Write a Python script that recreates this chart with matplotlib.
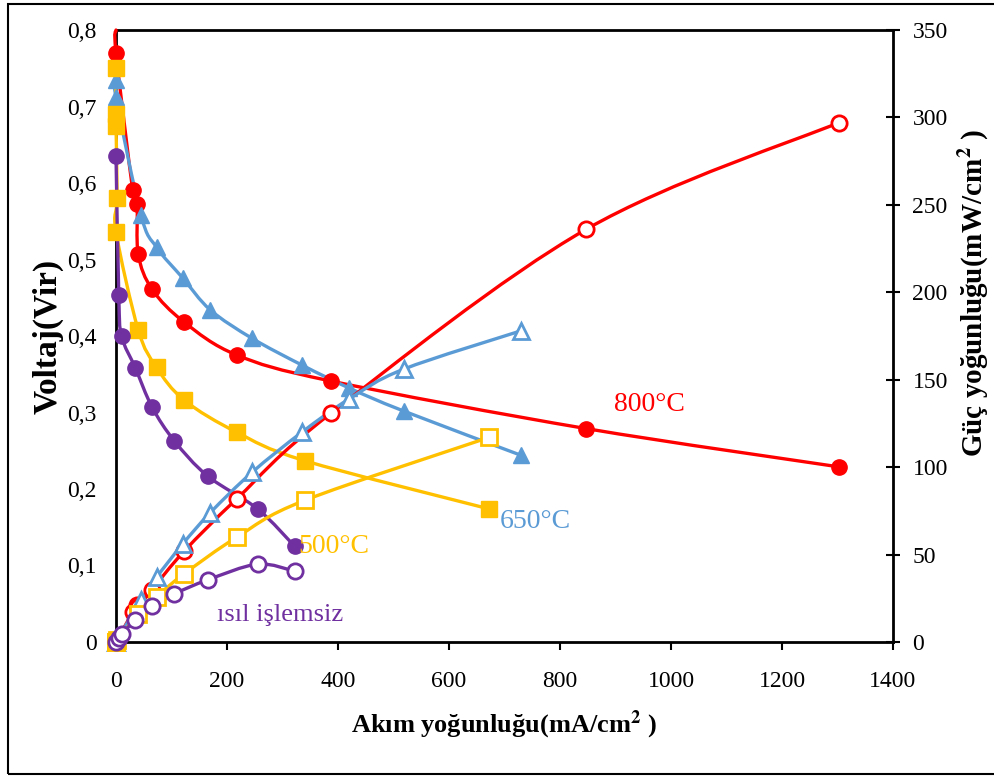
import numpy as np
import matplotlib.pyplot as plt
from matplotlib.path import Path
from matplotlib.patches import PathPatch, Rectangle

plt.rcParams['font.family'] = ['Liberation Serif', 'DejaVu Serif']
plt.rcParams['mathtext.fontset'] = 'stix'

# 800 C
i800 = [0, 0, 30, 38, 40, 65, 123, 218, 388, 847, 1302]
v800 = [0.80, 0.77, 0.591, 0.572, 0.507, 0.461, 0.418, 0.375, 0.341, 0.279, 0.229]
p800 = [0, 0, 17, 21, 20, 30, 52, 82, 131, 236, 297]

# 650 C
i650 = [0, 0, 45, 73, 120, 170, 245, 335, 420, 518, 730]
v650 = [0.735, 0.712, 0.558, 0.516, 0.476, 0.434, 0.397, 0.362, 0.332, 0.302, 0.244]
p650 = [0, 0, 24, 37, 56, 74, 97, 120, 139, 156, 178]

# 500 C
i500 = [0, 0, 0, 2, 0, 40, 73, 123, 218, 340, 672]
v500 = [0.75, 0.69, 0.675, 0.58, 0.536, 0.408, 0.359, 0.316, 0.274, 0.237, 0.174]
p500 = [0, 0, 0, 1, 0, 16, 26, 39, 60, 81, 117]

# isil islemsiz
iraw = [0, 5, 10, 35, 65, 105, 165, 255, 322]
vraw = [0.635, 0.453, 0.40, 0.358, 0.307, 0.263, 0.217, 0.174, 0.125]
praw = [0, 2.3, 4.5, 12.6, 20.5, 27.5, 35.5, 44.5, 40.5]

c800 = '#FF0000'
c650 = '#5B9BD5'
c500 = '#FFC000'
craw = '#7030A0'


def smooth(ax, xs, ys, color):
    # Excel-like smoothed line (Catmull-Rom as cubic Bezier)
    pts = np.column_stack([xs, ys]).astype(float)
    verts = [tuple(pts[0])]
    codes = [Path.MOVETO]
    n = len(pts)
    for k in range(n - 1):
        p0 = pts[max(k - 1, 0)]
        p1 = pts[k]
        p2 = pts[k + 1]
        p3 = pts[min(k + 2, n - 1)]
        c1 = p1 + (p2 - p0) / 6.0
        c2 = p2 - (p3 - p1) / 6.0
        verts += [tuple(c1), tuple(c2), tuple(p2)]
        codes += [Path.CURVE4] * 3
    ax.add_patch(PathPatch(Path(verts, codes), fill=False, edgecolor=color,
                           lw=2.4, zorder=2.6, capstyle='round', clip_on=False))


fig = plt.figure(figsize=(9.95, 7.76), dpi=100)
fig.patches.append(Rectangle((0.008, 0.003), 1.2, 0.992, transform=fig.transFigure,
                             fill=False, edgecolor='black', lw=1.5))

ax = fig.add_axes([0.1166, 0.1727, 0.7809, 0.7886])
ax2 = ax.twinx()
for side in ('left', 'top', 'bottom'):
    ax2.spines[side].set_visible(False)
ax.spines['right'].set_visible(False)

ax.set_xlim(0, 1400)
ax.set_ylim(0, 0.8)
ax2.set_ylim(0, 350)

ms = 11
# first red point (0, 0.80) is only where the line starts, no marker there
for xs, ys, col, mk, skip in [(i800, v800, c800, 'o', 1), (i650, v650, c650, '^', 0),
                              (i500, v500, c500, 's', 0), (iraw, vraw, craw, 'o', 0)]:
    smooth(ax, xs, ys, col)
    ax.plot(xs[skip:], ys[skip:], ls='none', marker=mk, ms=ms, color=col, zorder=3,
            clip_on=False)

for xs, ys, col, mk in [(i800, p800, c800, 'o'), (i650, p650, c650, '^'),
                        (i500, p500, c500, 's'), (iraw, praw, craw, 'o')]:
    smooth(ax2, xs, ys, col)
    ax2.plot(xs, ys, ls='none', marker=mk, ms=ms, mfc='white', mec=col, mew=2,
             zorder=3, clip_on=False)

ax.set_xticks(np.arange(0, 1401, 200))
ax.set_yticks(np.arange(0, 0.81, 0.1))
ax.set_yticklabels(['0'] + ['0,%d' % k for k in range(1, 9)])
ax2.set_yticks(np.arange(0, 351, 50))

ax.tick_params(axis='y', length=0, labelsize=17, pad=14)
ax.tick_params(axis='x', direction='out', length=6, width=1.5, labelsize=17, pad=15)
ax2.tick_params(axis='y', direction='inout', length=10, width=1.5, labelsize=17, pad=9)

for a in (ax, ax2):
    for s in a.spines.values():
        s.set_linewidth(2)

ax.set_xlabel('Akım yoğunluğu(mA/cm$^{\\mathbf{2}}$ )', fontsize=19, fontweight='bold', labelpad=12)
ax.set_ylabel('Voltaj(Vir)', fontsize=24, fontweight='bold')
ax.yaxis.set_label_coords(-0.068, 0.5)
ax2.set_ylabel('Güç yoğunluğu(mW/cm$^{\\mathbf{2}}$ )', fontsize=21, fontweight='bold')
ax2.yaxis.set_label_coords(1.082, 0.57)

ax.text(962, 0.31, '800°C', color=c800, fontsize=20, ha='center', va='center')
ax.text(755, 0.157, '650°C', color=c650, fontsize=20, ha='center', va='center')
ax.text(393, 0.125, '500°C', color=c500, fontsize=20, ha='center', va='center')
ax.text(296, 0.035, 'ısıl işlemsiz', color=craw, fontsize=19, ha='center', va='center')

fig.savefig('out.png', dpi=100)
